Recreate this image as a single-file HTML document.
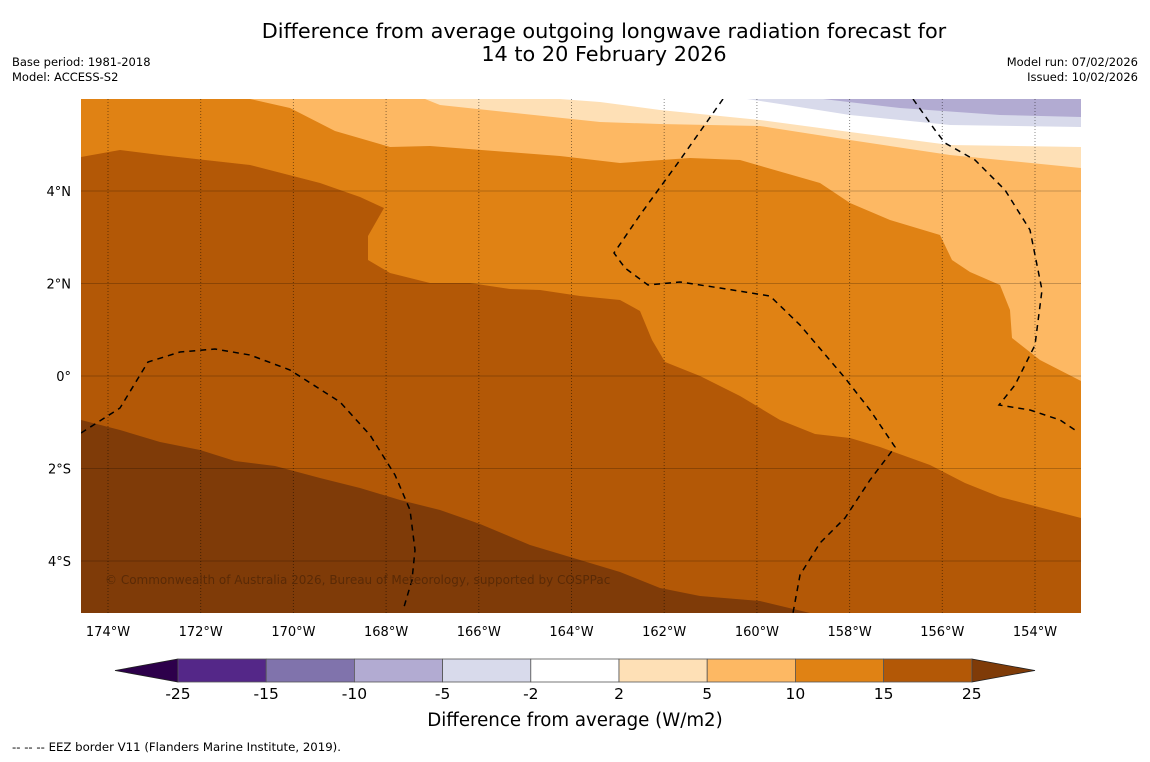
<!DOCTYPE html>
<html><head><meta charset="utf-8"><style>
body{margin:0;background:#fff;font-family:"DejaVu Sans","Liberation Sans",sans-serif;}
svg text{font-family:"DejaVu Sans","Liberation Sans",sans-serif;}
</style></head><body>
<svg width="1150" height="758" viewBox="0 0 1150 758" xmlns="http://www.w3.org/2000/svg">
<text x="604" y="38" font-size="20.8" text-anchor="middle">Difference from average outgoing longwave radiation forecast for</text>
<text x="604" y="61" font-size="20.8" text-anchor="middle">14 to 20 February 2026</text>
<text x="12" y="66" font-size="11.5">Base period: 1981-2018</text>
<text x="12" y="81" font-size="11.5">Model: ACCESS-S2</text>
<text x="1138" y="66" font-size="11.5" text-anchor="end">Model run: 07/02/2026</text>
<text x="1138" y="81" font-size="11.5" text-anchor="end">Issued: 10/02/2026</text>
<defs><clipPath id="mc"><rect x="81" y="99" width="1000" height="514"/></clipPath></defs>
<g id="map" clip-path="url(#mc)">
<rect x="81" y="99" width="1000" height="514" fill="#b2abd2"/>
<polygon fill="#d8daeb" points="747,99 823,99 900,108 1000,115 1081,117 1081,613 81,613 81,99"/>
<polygon fill="#ffffff" points="420,99 747,99 780,104 850,115 950,125 1081,127 1081,613 81,613 81,99"/>
<polygon fill="#fee0b6" points="425,99 560,99 600,102 660,110 760,120 850,132 950,145 1081,147 1081,613 81,613 81,99"/>
<polygon fill="#fdb863" points="250,99 425,99 440,105 600,122 660,124 760,126 850,140 950,155 1081,168 1081,613 81,613 81,99"/>
<polygon fill="#e08214" points="81,99 250,99 290,108 335,131 390,147 430,146 560,156 620,163 690,158 740,160 820,183 850,203 890,220 940,235 952,260 970,272 1000,285 1010,310 1012,338 1040,360 1081,381 1081,613 81,613"/>
<polygon fill="#b35806" points="81,157 120,150 160,155 250,165 320,183 360,197 384,208 368,236 368,260 390,273 430,283 470,283 510,289 540,290 580,296 620,300 640,311 652,340 665,362 700,376 740,396 780,420 815,434 850,438 880,447 930,465 965,483 1000,497 1081,518 1081,613 81,613"/>
<polygon fill="#7f3b08" points="81,420 120,430 160,442 200,450 235,461 275,466 320,478 360,488 400,500 440,510 480,524 530,545 580,560 620,572 660,588 700,596 760,601 810,613 81,613"/>
<g id="grid"></g>
<g fill="none" stroke="#000" stroke-width="1.5" stroke-dasharray="6,5">
<polyline points="81,433 120,408 148,362 180,352 215,349 250,355 290,370 340,402 370,435 395,475 410,510 415,550 412,580 404,607"/>
<polyline points="723,99 680,160 640,215 614,253 625,268 648,285 680,282 720,288 770,296 800,325 845,378 870,410 895,447 870,480 845,518 820,543 800,575 793,613"/>
<polyline points="913,99 935,130 945,143 975,160 1005,190 1030,230 1042,290 1035,345 1015,385 999,405 1030,410 1060,420 1078,432"/>
</g>
<text x="105" y="584" font-size="12" fill="#5a2a06">© Commonwealth of Australia 2026, Bureau of Meteorology, supported by COSPPac</text>
</g>
<g id="axes"></g>
<g id="cbar"></g>
<text x="575" y="726" font-size="18.2" text-anchor="middle">Difference from average (W/m2)</text>
<text x="12" y="751" font-size="11.5" textLength="329" lengthAdjust="spacingAndGlyphs">--  --  -- EEZ border V11 (Flanders Marine Institute, 2019).</text>
</svg>
<script>
const lonTicks=[-174,-172,-170,-168,-166,-164,-162,-160,-158,-156,-154];
const latTicks=[4,2,0,-2,-4];
const cbLevels=[-25,-15,-10,-5,-2,2,5,10,15,25];
const cbColors=["#542788","#8073ac","#b2abd2","#d8daeb","#ffffff","#fee0b6","#fdb863","#e08214","#b35806"];
const cbUnder="#2d004b", cbOver="#7f3b08";
const NS="http://www.w3.org/2000/svg";
const xLon=l=>108+(l+174)*46.35;
const yLat=l=>376-l*46.25;
function mk(t,a,p){const e=document.createElementNS(NS,t);for(const k in a)e.setAttribute(k,a[k]);p.appendChild(e);return e;}
const grid=document.getElementById('grid'),axes=document.getElementById('axes'),cb=document.getElementById('cbar');
lonTicks.forEach(l=>{const x=xLon(l);
 const g=mk('line',{x1:x,x2:x,y1:99,y2:613,stroke:'rgba(0,0,0,0.45)','stroke-width':1,'stroke-dasharray':'1,2'},grid);
 
 
 const t=mk('text',{x:x,y:636,'font-size':13,'text-anchor':'middle'},axes);t.textContent=Math.abs(l)+'°W';
 
 });
latTicks.forEach(l=>{const y=yLat(l);
 const g=mk('line',{x1:81,x2:1081,y1:y,y2:y,stroke:'rgba(0,0,0,0.22)','stroke-width':1},grid);
 
 
 const t=mk('text',{x:71,y:y+5,'font-size':13,'text-anchor':'end'},axes);t.textContent=l===0?'0°':Math.abs(l)+'°'+(l>0?'N':'S');
 
 });
const cx0=178,cw=88.2,cy=659,ch=23;
const cxi=i=>cx0+i*cw;
const u=mk('polygon',{points:`${cxi(0)},${cy} ${cxi(0)},${cy+ch} 115,${cy+ch/2}`,fill:cbUnder,stroke:'#222','stroke-width':0.8},cb);


const n=cbColors.length;
const o=mk('polygon',{points:`${cxi(n)},${cy} ${cxi(n)},${cy+ch} 1035,${cy+ch/2}`,fill:cbOver,stroke:'#222','stroke-width':0.8},cb);


cbColors.forEach((c,i)=>{const r=mk('rect',{x:cxi(i),y:cy,width:cw,height:ch,fill:c,stroke:'#555','stroke-width':0.8},cb);
 
 });
cbLevels.forEach((v,i)=>{const t=mk('text',{x:cxi(i),y:699,'font-size':15.5,'text-anchor':'middle'},cb);t.textContent=v;
 
 });
</script>
</body></html>
